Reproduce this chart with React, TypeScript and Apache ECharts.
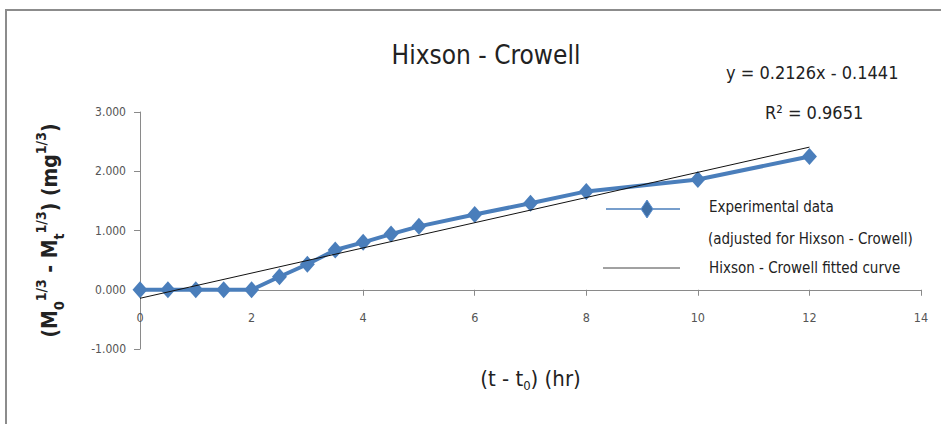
import React, { useEffect, useRef } from "react";
import * as echarts from "echarts";

const timeHr = [0, 0.5, 1, 1.5, 2, 2.5, 3, 3.5, 4, 4.5, 5, 6, 7, 8, 10, 12];
const expValues = [0, 0, 0, 0, 0, 0.22, 0.43, 0.67, 0.8, 0.94, 1.07, 1.27, 1.46, 1.66, 1.86, 2.25];
const fitX = [0, 12];
const fitY = [-0.1441, 2.4071];
const yTicks = [-1, 0, 1, 2, 3];
const xTicks = [0, 2, 4, 6, 8, 10, 12, 14];

const FONT = "'Liberation Sans Narrow', 'DejaVu Sans Condensed', 'Noto Sans', sans-serif";
const BLUE = "#4a7ebb";

export default function App() {
  const ref = useRef<HTMLDivElement>(null);
  useEffect(() => {
    if (!ref.current) return;
    const chart = echarts.init(ref.current, undefined, { renderer: "svg" });
    const expData = timeHr.map((t, i) => [t, expValues[i]]);
    const fitData = fitX.map((t, i) => [t, fitY[i]]);
    chart.setOption({
      animation: false,
      backgroundColor: "#ffffff",
      textStyle: { fontFamily: FONT },
      title: {
        text: "Hixson - Crowell",
        left: 481,
        top: 37,
        textAlign: "center",
        textStyle: { fontSize: 26, fontWeight: "normal", color: "#222", fontFamily: FONT },
      },
      grid: { left: 140, right: 20, top: 112, bottom: 75, outerBoundsMode: "none", containLabel: false },
      xAxis: {
        type: "value",
        min: xTicks[0],
        max: xTicks[xTicks.length - 1],
        interval: 2,
        splitLine: { show: false },
        axisLine: { onZero: true, lineStyle: { color: "#8a8a8a", width: 1 } },
        axisTick: { show: true, length: 6, lineStyle: { color: "#8a8a8a" } },
        axisLabel: { color: "#555", fontSize: 12.5, margin: -38, fontFamily: FONT },
        name: "{p|(t - t}{sub|0}{p|) (hr)}",
        nameLocation: "middle",
        nameGap: 15,
        nameTextStyle: {
          rich: {
            p: { fontSize: 22, color: "#222", fontFamily: FONT, lineHeight: 28, verticalAlign: "middle" },
            sub: { fontSize: 13, color: "#222", fontFamily: FONT, lineHeight: 28, verticalAlign: "bottom" },
          },
        },
      },
      yAxis: {
        type: "value",
        min: yTicks[0],
        max: yTicks[yTicks.length - 1],
        interval: 1,
        splitLine: { show: false },
        axisLine: { show: true, lineStyle: { color: "#8a8a8a", width: 1 } },
        axisTick: { show: true, length: 6, lineStyle: { color: "#8a8a8a" } },
        axisLabel: {
          color: "#555",
          fontSize: 12,
          margin: 14,
          fontFamily: FONT,
          formatter: (v: number) => v.toFixed(3),
        },
        name: "{p|(M}{sub|0}{sup|1/3}{p| - M}{sub|t}{sup|1/3}{p|) (mg}{sup|1/3}{p|)}",
        nameLocation: "middle",
        nameRotate: 90,
        nameGap: 74,
        nameTextStyle: {
          rich: {
            p: { fontSize: 21, fontWeight: "bold", color: "#222", fontFamily: FONT, lineHeight: 32, verticalAlign: "middle" },
            sub: { fontSize: 14, fontWeight: "bold", color: "#222", fontFamily: FONT, lineHeight: 32, verticalAlign: "bottom" },
            sup: { fontSize: 14, fontWeight: "bold", color: "#222", fontFamily: FONT, lineHeight: 32, verticalAlign: "top" },
          },
        },
      },
      series: [
        {
          name: "Hixson - Crowell fitted curve",
          type: "line",
          data: fitData,
          symbol: "none",
          lineStyle: { color: "#111", width: 1 },
          z: 3,
        },
        {
          name: "Experimental data",
          type: "line",
          data: expData,
          symbol: "diamond",
          symbolSize: [15, 17],
          itemStyle: { color: BLUE },
          lineStyle: { color: BLUE, width: 4 },
          z: 2,
        },
      ],
      graphic: [
        {
          type: "rect",
          shape: { x: 6, y: 10, width: 1000, height: 500 },
          style: { fill: "none", stroke: "#8c8c8c", lineWidth: 2 },
          silent: true,
        },
        {
          type: "text",
          left: 726,
          top: 63,
          style: { text: "y = 0.2126x - 0.1441", fontSize: 18, fill: "#222", fontFamily: FONT },
        },
        {
          type: "text",
          left: 765,
          top: 103,
          style: { text: "R² = 0.9651", fontSize: 18, fill: "#222", fontFamily: FONT },
        },
        {
          type: "line",
          shape: { x1: 606, y1: 209, x2: 680, y2: 209 },
          style: { stroke: BLUE, lineWidth: 1.5 },
        },
        {
          type: "polygon",
          shape: { points: [[647, 200], [653, 209], [647, 218], [641, 209]] },
          style: { fill: "#3f6fa6", stroke: "#5b8fd0", lineWidth: 1 },
        },
        {
          type: "text",
          left: 709,
          top: 199,
          style: { text: "Experimental data", fontSize: 15, fill: "#222", fontFamily: FONT },
        },
        {
          type: "text",
          left: 708,
          top: 231,
          style: { text: "(adjusted for Hixson - Crowell)", fontSize: 15, fill: "#222", fontFamily: FONT },
        },
        {
          type: "line",
          shape: { x1: 603, y1: 268, x2: 680, y2: 268 },
          style: { stroke: "#444", lineWidth: 1 },
        },
        {
          type: "text",
          left: 709,
          top: 260,
          style: { text: "Hixson - Crowell fitted curve", fontSize: 15, fill: "#222", fontFamily: FONT },
        },
      ],
    });
    return () => chart.dispose();
  }, []);
  return (
    <div
      ref={ref}
      style={{ position: "fixed", left: 0, top: 0, width: 941, height: 424 }}
    />
  );
}
